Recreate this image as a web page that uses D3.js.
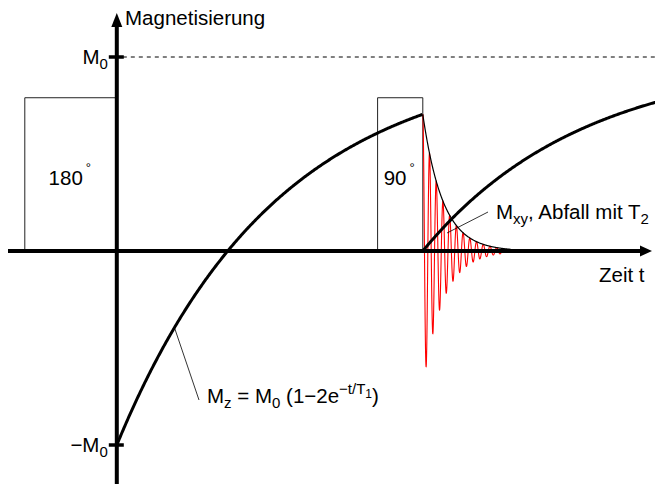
<!DOCTYPE html>
<html>
<head>
<meta charset="utf-8">
<script src="https://cdn.jsdelivr.net/npm/d3@7"></script>
<style>
  html, body { margin: 0; padding: 0; background: #fff; }
  svg { display: block; }
  text { font-family: "Liberation Sans", Arial, Helvetica, sans-serif; fill: #000; }
</style>
</head>
<body>
<svg id="chart" width="655" height="484"></svg>
<script>
// Time in units of T1, magnetisation in units of M0
const T1 = 1.0;
const T2 = 0.125;
const larmorPeriod = 0.042;

// RF pulses: inversion (180°) then excitation (90°)
const pulseLabels = ["180", "90"];
const pulseStart  = [-0.575, 1.63];
const pulseEnd    = [0.0, 1.9125];
const pulseLevel  = 0.79;

// Reference levels on the magnetisation axis
const levelValues = [1, -1];
const levelPrefix = ["", "\u2212"];

const width = 655, height = 484;
const fs = 20.5, fsSub = 15;
const svg = d3.select("#chart");

const x = d3.scaleLinear().domain([-0.68, 3.36]).range([8, 654.4]);
const y = d3.scaleLinear().domain([-1, 1]).range([445, 57]);

const tPulse = pulseEnd[1];
const x0 = x(0), y0 = y(0);

// Longitudinal relaxation after inversion: Mz = M0 (1 - 2 e^{-t/T1})
const mzInv = t => 1 - 2 * Math.exp(-t / T1);
const mzAtPulse = mzInv(tPulse);
// After the 90° pulse Mz restarts from zero
const mzRec = t => 1 - Math.exp(-(t - tPulse) / T1);
// Transverse magnetisation envelope and precession signal
const mxyEnv = t => mzAtPulse * Math.exp(-(t - tPulse) / T2);
const fid = t => mxyEnv(t) * Math.cos(2 * Math.PI * (t - tPulse) / larmorPeriod);

const line = d3.line().x(d => x(d[0])).y(d => y(d[1]));

// Dashed M0 reference line
svg.append("line")
  .attr("x1", x0 + 6).attr("x2", width)
  .attr("y1", y(1)).attr("y2", y(1))
  .attr("stroke", "#000").attr("stroke-width", 1)
  .attr("stroke-dasharray", "4,4");

// Pulse boxes
pulseLabels.forEach((lab, i) => {
  svg.append("path")
    .attr("d", `M${x(pulseStart[i])},${y0} V${y(pulseLevel)} H${x(pulseEnd[i])} V${y0}`)
    .attr("fill", "none").attr("stroke", "#222").attr("stroke-width", 1);
  const cx = (x(pulseStart[i]) + x(pulseEnd[i])) / 2;
  const t = svg.append("text")
    .attr("x", cx - 1).attr("y", 185)
    .attr("text-anchor", "middle")
    .attr("font-size", fs);
  t.append("tspan").text(lab);
  t.append("tspan").attr("dy", -13).attr("dx", 3).attr("font-size", 13).text("\u00b0");
});

// FID signal (red) after the 90° pulse
const fidPts = d3.range(tPulse, tPulse + 0.5, 0.0004).map(t => [t, fid(t)]);
svg.append("path")
  .attr("d", line(fidPts))
  .attr("fill", "none").attr("stroke", "#ff0000").attr("stroke-width", 1.1);

// Mxy envelope
const envPts = d3.range(tPulse, tPulse + 0.55, 0.002).map(t => [t, mxyEnv(t)]);
svg.append("path")
  .attr("d", line(envPts))
  .attr("fill", "none").attr("stroke", "#000").attr("stroke-width", 1.2);

// Axes
svg.append("line")
  .attr("x1", 8).attr("x2", 644).attr("y1", y0).attr("y2", y0)
  .attr("stroke", "#000").attr("stroke-width", 4);
svg.append("path")
  .attr("d", `M${652},${y0} L${640},${y0 - 5.5} L${640},${y0 + 5.5} Z`)
  .attr("fill", "#000");
svg.append("line")
  .attr("x1", x0).attr("x2", x0).attr("y1", height).attr("y2", 24)
  .attr("stroke", "#000").attr("stroke-width", 4);
svg.append("path")
  .attr("d", `M${x0},${13} L${x0 - 5.5},${27} L${x0 + 5.5},${27} Z`)
  .attr("fill", "#000");

// Level ticks and labels
levelValues.forEach((v, i) => {
  svg.append("line")
    .attr("x1", x0 - 8).attr("x2", x0 + 7).attr("y1", y(v)).attr("y2", y(v))
    .attr("stroke", "#000").attr("stroke-width", 3.5);
  const t = svg.append("text")
    .attr("x", x0 - 9).attr("y", y(v) + 7)
    .attr("text-anchor", "end").attr("font-size", fs);
  t.append("tspan").text(levelPrefix[i] + "M");
  t.append("tspan").attr("dy", 5).attr("font-size", fsSub).text("0");
});

// Mz curves
const invPts = d3.range(0, tPulse + 0.0001, 0.005).map(t => [t, mzInv(t)]);
svg.append("path")
  .attr("d", line(invPts))
  .attr("fill", "none").attr("stroke", "#000").attr("stroke-width", 3);
const recPts = d3.range(tPulse, 3.37, 0.005).map(t => [t, mzRec(t)]);
svg.append("path")
  .attr("d", line(recPts))
  .attr("fill", "none").attr("stroke", "#000").attr("stroke-width", 3);

// Axis titles
svg.append("text").attr("x", 125).attr("y", 25).attr("font-size", fs)
  .text("Magnetisierung");
svg.append("text").attr("x", 599).attr("y", 282).attr("font-size", fs)
  .text("Zeit t");

// Mz formula label with leader
const tLead = 0.363;
svg.append("line")
  .attr("x1", x(tLead)).attr("y1", y(mzInv(tLead)) + 2)
  .attr("x2", 199).attr("y2", 400)
  .attr("stroke", "#000").attr("stroke-width", 0.8);
const mzLab = svg.append("text").attr("x", 207).attr("y", 403).attr("font-size", fs);
mzLab.append("tspan").text("M");
mzLab.append("tspan").attr("dy", 5).attr("font-size", fsSub).text("z");
mzLab.append("tspan").attr("dy", -5).text(" = M");
mzLab.append("tspan").attr("dy", 5).attr("font-size", fsSub).text("0");
mzLab.append("tspan").attr("dy", -5).text(" (1\u22122e");
mzLab.append("tspan").attr("dy", -9).attr("font-size", fsSub).text("\u2212t/T");
mzLab.append("tspan").attr("dy", 4).attr("font-size", 12).text("1");
mzLab.append("tspan").attr("dy", 5).text(")");

// Mxy label with leader
svg.append("line")
  .attr("x1", 447).attr("y1", 233).attr("x2", 488).attr("y2", 212)
  .attr("stroke", "#000").attr("stroke-width", 0.8);
const mxyLab = svg.append("text").attr("x", 496).attr("y", 219).attr("font-size", fs);
mxyLab.append("tspan").text("M");
mxyLab.append("tspan").attr("dy", 5).attr("font-size", fsSub).text("xy");
mxyLab.append("tspan").attr("dy", -5).text(", Abfall mit T");
mxyLab.append("tspan").attr("dy", 5).attr("font-size", fsSub).text("2");
</script>
</body>
</html>
